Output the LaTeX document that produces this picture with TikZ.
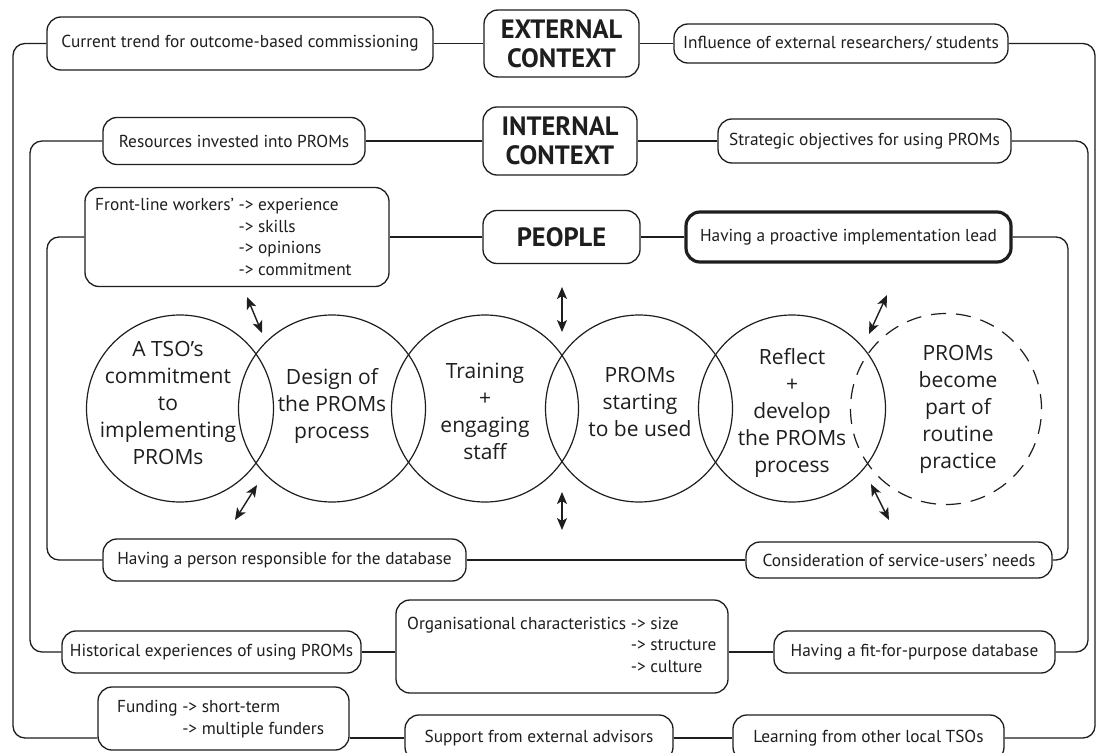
\documentclass[tikz,border=0pt]{standalone}
\usepackage{fontspec}
\setmainfont{PT Sans}
\newfontfamily\circfont{Open Sans}
\usetikzlibrary{arrows.meta}
\definecolor{ink}{RGB}{30,30,30}
\begin{document}
\begin{tikzpicture}[x=1pt,y=-1pt,
  sz/.style n args={2}{minimum width=#1pt, minimum height=#2pt},
  box/.style={draw=ink, line width=1.3pt, rounded corners=14pt, inner sep=0pt, text=ink,
              font=\fontsize{17.3}{21.5}\selectfont},
  hdr/.style={box, align=center, font=\bfseries\fontsize{26.5}{29}\selectfont},
  inner/.style={inner sep=0pt, text=ink, align=left, anchor=west, font=\fontsize{17.3}{21.5}\selectfont},
  circ/.style={circle, draw=ink, line width=1.2pt, inner sep=0pt, minimum size=187pt},
  ctext/.style={font=\circfont\fontsize{21}{27}\selectfont, align=center, text=ink, inner sep=0pt},
  conn/.style={draw=ink, line width=1.3pt, rounded corners=12pt},
  dbl/.style={draw=ink, line width=1.4pt, {Stealth[length=12pt,width=10pt,inset=3pt]}-{Stealth[length=12pt,width=10pt,inset=3pt]}},
]
\useasboundingbox (0,0) rectangle (1097,752);
\clip (0,0) rectangle (1097,752);
\fill[white] (0,0) rectangle (1097,752);

% ---------- external row ----------
\node[box, sz={386}{53}] (cur) at (240,43.5) {Current trend for outcome-based commissioning};
\node[hdr, sz={155}{67}] (ext) at (561.5,43.5) {EXTERNAL\\CONTEXT};
\node[box, sz={334}{39}] (infl) at (841,43.5) {Influence of external researchers/ students};

% ---------- internal row ----------
\node[box, sz={262}{47}] (res) at (234,141) {Resources invested into PROMs};
\node[hdr, sz={154}{68}] (int) at (560,141) {INTERNAL\\CONTEXT};
\node[box, sz={293}{44}] (strat) at (864.5,141) {Strategic objectives for using PROMs};

% ---------- people row ----------
\node[box, sz={304}{99}] (front) at (237,237) {};
\node[inner] (frontt) at (95,237) {Front-line workers’ -> experience\\
  \phantom{Front-line workers’ }-> skills\\
  \phantom{Front-line workers’ }-> opinions\\
  \phantom{Front-line workers’ }-> commitment};
\node[hdr, sz={157}{53}] (people) at (561.5,237) {PEOPLE};
\node[box, sz={325}{50}, line width=3.2pt] (pro) at (848.5,237) {Having a proactive implementation lead};

% ---------- lower boxes ----------
\node[box, sz={363}{42}] (person) at (284.5,560) {Having a person responsible for the database};
\node[box, sz={306}{36}] (cons) at (899,560) {Consideration of service-users’ needs};

\node[box, sz={299}{42}] (hist) at (211.5,652) {Historical experiences of using PROMs};
\node[box, sz={332}{93}] (org) at (562,646.5) {};
\node[inner] (orgt) at (407,646.5) {Organisational characteristics -> size\\
  \phantom{Organisational characteristics }-> structure\\
  \phantom{Organisational characteristics }-> culture};
\node[box, sz={281}{42}] (fit) at (914.5,652) {Having a fit-for-purpose database};

\node[box, sz={251}{63}] (fund) at (223.5,718.5) {};
\node[inner] (fundt) at (117,719) {Funding -> short-term\\
  \phantom{Funding }-> multiple funders};
\node[box, sz={268}{46}] (sup) at (539,738) {Support from external advisors};
\node[box, sz={271}{46}] (learn) at (868.5,738) {Learning from other local TSOs};

% ---------- loop corners ----------
\coordinate (oTL) at (13,43.5);
\coordinate (oBL) at (13,738);
\coordinate (oBR) at (1095,738);
\coordinate (oTR) at (1095,43.5);
\coordinate (iTL) at (30,141);
\coordinate (iBL) at (30,652);
\coordinate (iBR) at (1088,652);
\coordinate (iTR) at (1088,141);
\coordinate (pTL) at (47,237);
\coordinate (pBL) at (47,560);
\coordinate (pBR) at (1068,560);
\coordinate (pTR) at (1068,237);

% outer loop
\draw[conn] (cur.west) -- (oTL) -- (oBL) -- (fund.west |- oBL);
\draw[conn] (fund.east |- oBL) -- (sup.west);
\draw[conn] (sup.east) -- (learn.west);
\draw[conn] (learn.east) -- (oBR) -- (oTR) -- (infl.east);
\draw[conn] (infl.west) -- (ext.east);
\draw[conn] (ext.west) -- (cur.east);

% internal loop
\draw[conn] (res.west) -- (iTL) -- (iBL) -- (hist.west);
\draw[conn] (hist.east) -- (org.west |- hist.east);
\draw[conn] (org.east |- fit.west) -- (fit.west);
\draw[conn] (fit.east) -- (iBR) -- (iTR) -- (strat.east);
\draw[conn] (strat.west) -- (int.east);
\draw[conn] (int.west) -- (res.east);

% people loop
\draw[conn] (front.west) -- (pTL) -- (pBL) -- (person.west);
\draw[conn] (person.east) -- (cons.west);
\draw[conn] (cons.east) -- (pBR) -- (pTR) -- (pro.east);
\draw[conn] (pro.west) -- (people.east);
\draw[conn] (people.west) -- (front.east);

% ---------- circles ----------
\node[circ] (c1) at (180,408.5) {};
\node[circ] (c2) at (332,408.5) {};
\node[circ] (c3) at (485,408.5) {};
\node[circ] (c4) at (639,408.5) {};
\node[circ] (c5) at (792,408.5) {};
\node[circ, minimum size=191pt, dash pattern=on 15pt off 10pt] (c6) at (946,409) {};

\node[ctext] (t1) at (168,403) {A TSO’s\\commitment\\to\\implementing\\PROMs};
\node[ctext] (t2) at (332,406) {Design of\\the PROMs\\process};
\node[ctext] (t3) at (485,411) {Training\\+\\engaging\\staff};
\node[ctext] (t4) at (640,402) {PROMs\\starting\\to be used};
\node[ctext] (t5) at (792,413) {Reflect\\+\\develop\\the PROMs\\process};
\node[ctext] (t6) at (958,409) {PROMs\\become\\part of\\routine\\practice};

% ---------- double arrows ----------
\coordinate (a1s) at (247,297); \coordinate (a1e) at (262,333);
\coordinate (a2s) at (257,485); \coordinate (a2e) at (235,520);
\coordinate (a3s) at (562,287); \coordinate (a3e) at (562,332);
\coordinate (a4s) at (562,492); \coordinate (a4e) at (562,530);
\coordinate (a5s) at (887,295); \coordinate (a5e) at (869,334);
\coordinate (a6s) at (871,484); \coordinate (a6e) at (889,520);
\draw[dbl] (a1s) -- (a1e);
\draw[dbl] (a2s) -- (a2e);
\draw[dbl] (a3s) -- (a3e);
\draw[dbl] (a4s) -- (a4e);
\draw[dbl] (a5s) -- (a5e);
\draw[dbl] (a6s) -- (a6e);
\end{tikzpicture}
\end{document}
